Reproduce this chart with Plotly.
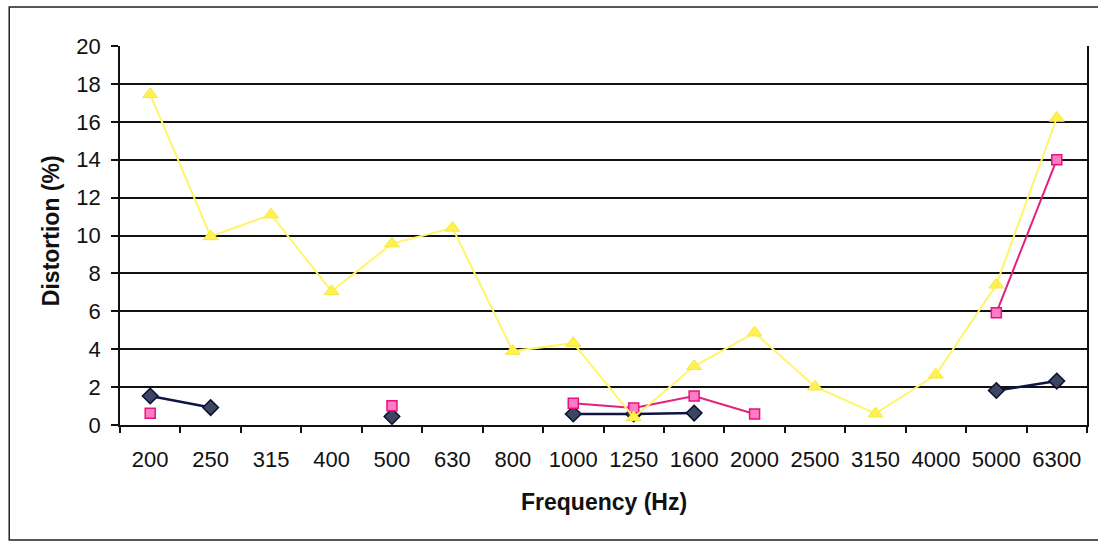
import plotly.graph_objects as go

categories = ["200", "250", "315", "400", "500", "630", "800", "1000", "1250",
              "1600", "2000", "2500", "3150", "4000", "5000", "6300"]

navy_values = [1.53, 0.92, None, None, 0.45, None, None, 0.58, 0.58,
               0.63, None, None, None, None, 1.82, 2.32]
pink_values = [0.62, None, None, None, 1.02, None, None, 1.15, 0.9,
               1.53, 0.58, None, None, None, 5.92, 14.0]
yellow_values = [17.45, 9.95, 11.1, 7.05, 9.57, 10.4, 3.9, 4.32, 0.4,
                 3.1, 4.87, 2.02, 0.6, 2.65, 7.4, 16.2]

y_ticks = [0, 2, 4, 6, 8, 10, 12, 14, 16, 18, 20]

W, H = 1098, 543
L, R, T, B = 120, 9, 46, 118
pw, ph = W - L - R, H - T - B

def px_x(x):
    return (x - L) / pw

def px_y(y):
    return (H - B - y) / ph

fig = go.Figure()

fig.add_trace(go.Scatter(
    x=categories, y=navy_values, mode="lines+markers", connectgaps=False,
    line=dict(color="#0E1540", width=2.5),
    marker=dict(symbol="diamond", size=12, color="#3C4660",
                line=dict(color="#0B1030", width=1.5)),
    name="Series 1", showlegend=False,
))
fig.add_trace(go.Scatter(
    x=categories, y=pink_values, mode="lines+markers", connectgaps=False,
    line=dict(color="#E0227A", width=2),
    marker=dict(symbol="square", size=10, color="#FF7CC4",
                line=dict(color="#E6127E", width=1.5)),
    name="Series 2", showlegend=False,
))
fig.add_trace(go.Scatter(
    x=categories, y=yellow_values, mode="lines+markers", connectgaps=False,
    line=dict(color="#FFF56A", width=2),
    marker=dict(symbol="triangle-up", size=13, color="#FFF250",
                line=dict(color="#F5E840", width=1)),
    name="Series 3", showlegend=False,
))

fig.update_layout(
    width=W, height=H,
    margin=dict(l=L, r=R, t=T, b=B, pad=0),
    paper_bgcolor="white", plot_bgcolor="white",
    font=dict(family="Liberation Sans, Arial, sans-serif", color="#111111"),
    xaxis=dict(
        type="category", categoryorder="array", categoryarray=categories,
        range=[-0.5, len(categories) - 0.5],
        showgrid=False, showline=True, linecolor="#111111", linewidth=1.5,
        ticks="outside", ticklen=6, tickwidth=1.5, tickcolor="#111111",
        tickson="boundaries", ticklabelstandoff=14,
        tickfont=dict(size=22, color="#111111"), zeroline=False,
    ),
    yaxis=dict(
        range=[0, 20], tickvals=y_ticks, ticktext=[str(v) for v in y_ticks],
        showgrid=True, gridcolor="#111111", gridwidth=1.5,
        showline=True, linecolor="#111111", linewidth=1.5, mirror=True,
        ticks="outside", ticklen=7, tickwidth=1.5, tickcolor="#111111",
        ticklabelstandoff=6,
        tickfont=dict(size=22, color="#111111"), zeroline=False,
    ),
    annotations=[
        dict(text="<b>Frequency (Hz)</b>", xref="paper", yref="paper",
             x=px_x(605), y=px_y(502), showarrow=False,
             font=dict(size=23, color="#111111"), xanchor="center", yanchor="middle"),
        dict(text="<b>Distortion (%)</b>", xref="paper", yref="paper",
             x=px_x(51), y=px_y(231), showarrow=False, textangle=-90,
             font=dict(size=23, color="#111111"), xanchor="center", yanchor="middle"),
    ],
    shapes=[
        dict(type="rect", xref="paper", yref="paper",
             x0=px_x(9), x1=px_x(1110), y0=px_y(540), y1=px_y(7),
             line=dict(color="#222222", width=1.5), layer="below"),
    ],
)

fig.write_html("out.html")
